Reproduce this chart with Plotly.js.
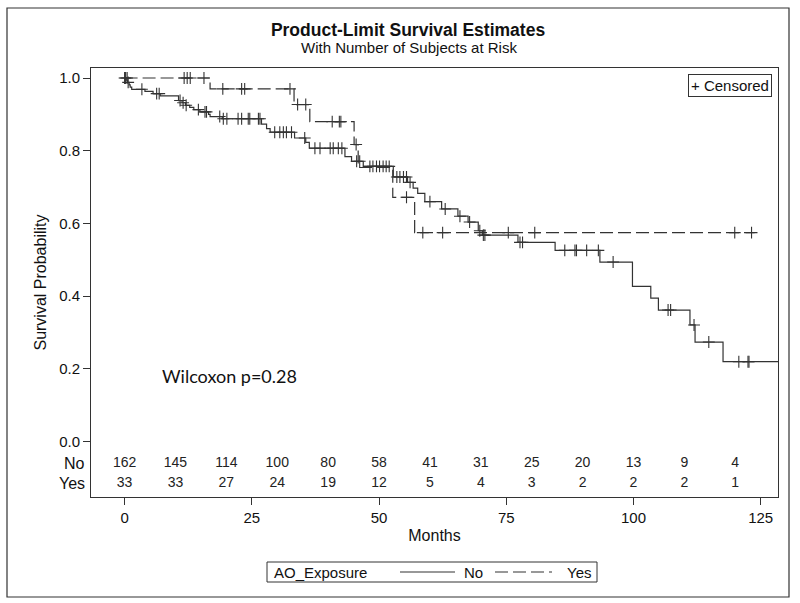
<!DOCTYPE html>
<html>
<head>
<meta charset="utf-8">
<script src="https://cdn.plot.ly/plotly-3.0.1.min.js"></script>
<style>
  html, body { margin: 0; padding: 0; background: #fff; }
  #chart { width: 800px; height: 603px; }
</style>
</head>
<body>
<div id="chart"></div>
<script>
// ---- Data ----
// Kaplan-Meier step points (time in months, survival after the drop)
const noTime = [0, 0.3, 0.6, 0.9, 1.1, 1.4, 4.0, 5.6, 7.0, 10.6, 11.3, 12.0, 12.8, 13.6, 14.8, 16.5, 16.8, 19.2,
  26.9, 27.9, 28.6, 33.4, 35.6, 36.3, 43.3, 44.6, 46.9, 52.8, 55.6, 56.7, 57.6, 59.0, 62.3, 65.5, 67.5, 69.5, 70.3,
  77.3, 84.6, 93.4, 99.8, 103.4, 104.9, 111.1, 112.1, 117.6, 130];
const noSurv = [1.0, 0.994, 0.988, 0.981, 0.975, 0.969, 0.963, 0.957, 0.951, 0.938, 0.932, 0.925, 0.919, 0.913, 0.907, 0.900, 0.894, 0.888,
  0.873, 0.861, 0.851, 0.835, 0.823, 0.807, 0.784, 0.771, 0.757, 0.728, 0.713, 0.697, 0.683, 0.660, 0.640, 0.620, 0.604, 0.580, 0.568,
  0.548, 0.526, 0.494, 0.427, 0.395, 0.362, 0.321, 0.274, 0.220, 0.220];
const yesTime = [0, 16.8, 33.3, 36.4, 45.1, 45.9, 52.7, 57.0, 123.8];
const yesSurv = [1.0, 0.970, 0.927, 0.880, 0.817, 0.754, 0.672, 0.575, 0.575];

// Censoring times
const noCensor = [0.2, 0.7, 3.4, 6.3, 6.8, 10.9, 11.5, 12.1, 14.5, 15.8, 16.1, 18.7, 19.4, 20.1, 22.3, 23.0, 24.3, 24.6,
  26.3, 26.6, 29.5, 30.5, 31.2, 31.8, 32.8, 35.4, 37.4, 38.4, 40.4, 41.0, 42.0, 42.7, 45.6, 46.2, 48.2, 48.8,
  49.5, 50.1, 50.8, 51.4, 52.0, 53.5, 54.1, 54.8, 55.4, 56.1, 60.0, 63.0, 65.9, 67.8, 69.8, 70.5, 70.8, 77.7, 78.2,
  86.5, 88.5, 88.8, 90.8, 93.1, 96.0, 106.8, 107.3, 111.9, 114.8, 120.7, 122.5, 122.7];
const yesCensor = [0.0, 0.5, 11.7, 12.3, 12.9, 15.6, 19.3, 23.0, 23.6, 32.5, 34.0, 35.6, 40.8, 42.2, 42.5, 45.5,
  55.4, 58.6, 62.5, 75.4, 80.6, 119.9, 123.2];

// Number at risk table
const riskTimes = [0, 10, 20, 30, 40, 50, 60, 70, 80, 90, 100, 110, 120];
const riskNo = [162, 145, 114, 100, 80, 58, 41, 31, 25, 20, 13, 9, 4];
const riskYes = [33, 33, 27, 24, 19, 12, 5, 4, 3, 2, 2, 2, 1];

const groupLabels = ['No', 'Yes'];
const legendTitle = 'AO_Exposure';
const xTicks = [0, 25, 50, 75, 100, 125];
const yTicks = [0, 0.2, 0.4, 0.6, 0.8, 1.0];

// ---- helpers ----
function survAt(times, surv, t) {
  let s = surv[0];
  for (let i = 0; i < times.length; i++) { if (times[i] <= t) s = surv[i]; }
  return s;
}

const FONT = 'Liberation Sans, Arial, sans-serif';
const INK = '#333333';
const TXT = '#111111';

// layout geometry (pixels)
const W = 800, H = 603;
const L = 91, R = 778, T = 68, B = 497;
const pw = R - L, ph = B - T;
const px = x => (x - L) / pw;
const py = y => (B - y) / ph;

const rowNoY = -0.061, rowYesY = -0.116;

const traces = [
  { x: noTime, y: noSurv, mode: 'lines', line: { shape: 'hv', color: INK, width: 1.2 }, name: groupLabels[0], hoverinfo: 'skip' },
  { x: yesTime, y: yesSurv, mode: 'lines', line: { shape: 'hv', color: INK, width: 1.2, dash: '13px,5px' }, name: groupLabels[1], hoverinfo: 'skip' },
  { x: noCensor, y: noCensor.map(t => survAt(noTime, noSurv, t)), mode: 'markers',
    marker: { symbol: 'cross-thin-open', size: 8.5, color: INK, line: { color: INK, width: 1.1 } } },
  { x: yesCensor, y: yesCensor.map(t => survAt(yesTime, yesSurv, t)), mode: 'markers',
    marker: { symbol: 'cross-thin-open', size: 8.5, color: INK, line: { color: INK, width: 1.1 } } },
  { x: riskTimes, y: riskTimes.map(() => rowNoY), mode: 'text', text: riskNo.map(String),
    textfont: { family: FONT, size: 14, color: '#222' }, textposition: 'middle center', cliponaxis: false },
  { x: riskTimes, y: riskTimes.map(() => rowYesY), mode: 'text', text: riskYes.map(String),
    textfont: { family: FONT, size: 14, color: '#222' }, textposition: 'middle center', cliponaxis: false }
];

// Legend box geometry (pixels) — drawn manually to match the boxed SAS legend
const lg = { x0: 267, x1: 597, y0: 562, y1: 582 };
const lgMid = (lg.y0 + lg.y1) / 2;

const layout = {
  width: W, height: H,
  showlegend: false,
  margin: { l: L, r: W - R, t: T, b: H - B, pad: 0 },
  paper_bgcolor: '#fff', plot_bgcolor: '#fff',
  font: { family: FONT, color: TXT, size: 15 },
  title: {
    text: '<b>Product-Limit Survival Estimates</b>',
    font: { family: FONT, size: 17.5, color: TXT },
    xref: 'container', x: 0.51, xanchor: 'center',
    yref: 'container', y: 1 - 30 / H, yanchor: 'middle'
  },
  xaxis: {
    range: [-6.6, 128.4], tickvals: xTicks, ticktext: xTicks.map(String),
    ticks: 'outside', ticklen: 7, tickcolor: INK, showline: true, linecolor: INK, linewidth: 1, mirror: true,
    showgrid: false, zeroline: false, tickfont: { family: FONT, size: 15, color: TXT }, ticklabelstandoff: 0,
    title: { text: 'Months', font: { family: FONT, size: 16, color: TXT }, standoff: 4 }
  },
  yaxis: {
    range: [-0.152, 1.0275], tickvals: yTicks, ticktext: yTicks.map(v => v.toFixed(1)),
    ticks: 'outside', ticklen: 7, tickcolor: INK, showline: true, linecolor: INK, linewidth: 1, mirror: true,
    showgrid: false, zeroline: false, tickfont: { family: FONT, size: 15, color: TXT },
    title: { text: 'Survival Probability', font: { family: FONT, size: 16, color: TXT }, standoff: 8 }
  },
  annotations: [
    { xref: 'paper', yref: 'paper', x: px(409), y: py(47), xanchor: 'center', yanchor: 'middle', showarrow: false,
      text: 'With Number of Subjects at Risk', font: { family: FONT, size: 15, color: TXT } },
    { xref: 'paper', yref: 'y', x: px(87), y: rowNoY, xanchor: 'right', yanchor: 'middle', showarrow: false,
      text: groupLabels[0], font: { family: FONT, size: 16, color: TXT } },
    { xref: 'paper', yref: 'y', x: px(87), y: rowYesY, xanchor: 'right', yanchor: 'middle', showarrow: false,
      text: groupLabels[1], font: { family: FONT, size: 16, color: TXT } },
    { xref: 'x', yref: 'y', x: 7.0, y: 0.181, xanchor: 'left', yanchor: 'middle', showarrow: false,
      text: 'Wilcoxon p=0.28', font: { family: 'Lato, Carlito, sans-serif', size: 18, color: TXT } },
    { xref: 'paper', yref: 'paper', x: px(772), y: py(74), xanchor: 'right', yanchor: 'top', showarrow: false,
      text: '+ Censored', font: { family: FONT, size: 15, color: TXT },
      bordercolor: INK, borderwidth: 1, borderpad: 2, bgcolor: '#fff' },
    // legend texts
    { xref: 'paper', yref: 'paper', x: px(272), y: py(lgMid), xanchor: 'left', yanchor: 'middle', showarrow: false,
      text: legendTitle, font: { family: FONT, size: 15, color: TXT } },
    { xref: 'paper', yref: 'paper', x: px(462), y: py(lgMid), xanchor: 'left', yanchor: 'middle', showarrow: false,
      text: groupLabels[0], font: { family: FONT, size: 15, color: TXT } },
    { xref: 'paper', yref: 'paper', x: px(565), y: py(lgMid), xanchor: 'left', yanchor: 'middle', showarrow: false,
      text: groupLabels[1], font: { family: FONT, size: 15, color: TXT } }
  ],
  shapes: [
    // outer figure frame
    { type: 'rect', xref: 'paper', yref: 'paper', x0: px(7), x1: px(789), y0: py(597), y1: py(8),
      line: { color: INK, width: 1.2 }, fillcolor: 'rgba(0,0,0,0)', layer: 'below' },
    // legend box and keys
    { type: 'rect', xref: 'paper', yref: 'paper', x0: px(lg.x0), x1: px(lg.x1), y0: py(lg.y1), y1: py(lg.y0),
      line: { color: INK, width: 1 }, fillcolor: '#fff' },
    { type: 'line', xref: 'paper', yref: 'paper', x0: px(400), x1: px(455), y0: py(lgMid), y1: py(lgMid),
      line: { color: INK, width: 1.2 } },
    { type: 'line', xref: 'paper', yref: 'paper', x0: px(495), x1: px(552), y0: py(lgMid), y1: py(lgMid),
      line: { color: INK, width: 1.2, dash: '13px,5px' } }
  ]
};

Plotly.newPlot('chart', traces, layout, { staticPlot: true, displayModeBar: false });
</script>
</body>
</html>
